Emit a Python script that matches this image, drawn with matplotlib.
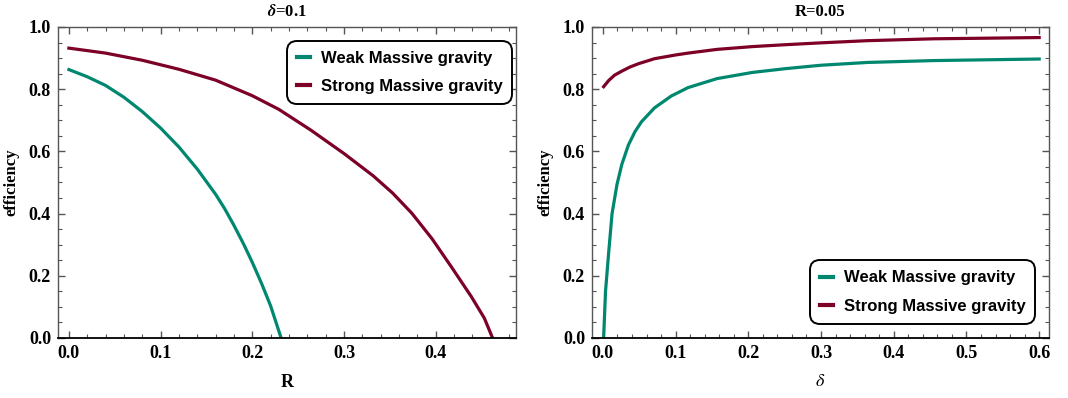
import matplotlib.pyplot as plt
from matplotlib.ticker import MultipleLocator

# left panel: delta = 0.1, efficiency vs R
r_weak = [0.0, 0.02, 0.04, 0.06, 0.08, 0.10, 0.12, 0.14, 0.16, 0.17, 0.18, 0.19,
          0.20, 0.21, 0.22, 0.2314]
eff_r_weak = [0.863, 0.840, 0.812, 0.774, 0.728, 0.675, 0.614, 0.543, 0.462, 0.415,
              0.362, 0.305, 0.243, 0.176, 0.103, 0.0]
r_strong = [0.0, 0.04, 0.08, 0.12, 0.16, 0.20, 0.229, 0.264, 0.30, 0.332, 0.353,
            0.374, 0.396, 0.417, 0.4386, 0.453, 0.462]
eff_r_strong = [0.932, 0.916, 0.893, 0.864, 0.829, 0.779, 0.735, 0.668, 0.593, 0.521,
                0.466, 0.401, 0.319, 0.229, 0.134, 0.064, 0.0]

# right panel: R = 0.05, efficiency vs delta
d_weak = [0.001, 0.0036, 0.0081, 0.0126, 0.0194, 0.026, 0.035, 0.044, 0.053, 0.071,
          0.094, 0.117, 0.157, 0.206, 0.251, 0.30, 0.364, 0.455, 0.60]
eff_d_weak = [0.0, 0.150, 0.279, 0.400, 0.494, 0.558, 0.620, 0.663, 0.695, 0.740,
              0.778, 0.805, 0.834, 0.854, 0.866, 0.877, 0.886, 0.892, 0.897]
d_strong = [0.001, 0.008, 0.016, 0.026, 0.037, 0.049, 0.071, 0.10, 0.117, 0.157,
            0.206, 0.251, 0.30, 0.364, 0.455, 0.60]
eff_d_strong = [0.808, 0.828, 0.845, 0.858, 0.871, 0.882, 0.898, 0.910, 0.916, 0.928,
                0.937, 0.943, 0.949, 0.956, 0.962, 0.966]

teal = '#00876f'
maroon = '#7d0027'
labels = ['Weak Massive gravity', 'Strong Massive gravity']

plt.rcParams['font.family'] = ['Liberation Serif', 'DejaVu Serif']
plt.rcParams['mathtext.fontset'] = 'stix'

fig = plt.figure(figsize=(10.68, 3.98), dpi=100)
ax1 = fig.add_axes([0.0543, 0.1508, 0.4288, 0.7814])
ax2 = fig.add_axes([0.5543, 0.1508, 0.4279, 0.7814])

ax1.plot(r_weak, eff_r_weak, color=teal, lw=2.3, label=labels[0])
ax1.plot(r_strong, eff_r_strong, color=maroon, lw=2.3, label=labels[1])
ax2.plot(d_weak, eff_d_weak, color=teal, lw=2.3, label=labels[0])
ax2.plot(d_strong, eff_d_strong, color=maroon, lw=2.3, label=labels[1])

ax1.set_xlim(-0.0119, 0.4875)
ax2.set_xlim(-0.015, 0.6135)
for ax in (ax1, ax2):
    ax.set_ylim(0, 1.0)
    ax.yaxis.set_major_locator(MultipleLocator(0.2))
    ax.yaxis.set_minor_locator(MultipleLocator(0.05))
    ax.xaxis.set_major_locator(MultipleLocator(0.1))
    ax.xaxis.set_minor_locator(MultipleLocator(0.02))
    ax.tick_params(which='both', direction='in', top=True, right=True,
                   color='#555555', labelsize=13, pad=5)
    ax.tick_params(which='major', length=5, width=1)
    ax.tick_params(which='minor', length=3, width=0.8)
    for sp in ax.spines.values():
        sp.set_color('#555555')
        sp.set_linewidth(1)
    ax.spines['bottom'].set_color('black')
    ax.spines['bottom'].set_linewidth(1.3)
    for lab in ax.get_xticklabels() + ax.get_yticklabels():
        lab.set_fontweight('bold')
    ax.set_ylabel('efficiency', fontsize=12, fontweight='bold', labelpad=7)

ax1.set_xlabel('R', fontsize=13, fontweight='bold', labelpad=9)
ax2.set_xlabel(r'$\delta$', fontsize=13, labelpad=8)
ax1.set_title(r'$\mathbfit{\delta}$=0.1', fontsize=12, fontweight='bold', pad=8)
ax2.set_title('R=0.05', fontsize=12, fontweight='bold', pad=8)

leg_font = {'family': ['Liberation Sans', 'DejaVu Sans'], 'weight': 'bold', 'size': 12}
for ax, loc, anchor in ((ax1, 'upper right', (0.987, 0.948)),
                        (ax2, 'lower right', (0.965, 0.054))):
    leg = ax.legend(loc=loc, bbox_to_anchor=anchor, borderaxespad=0, prop=leg_font,
                    handlelength=0.75, handletextpad=0.65, labelspacing=0.8,
                    borderpad=0.45, fancybox=True, framealpha=1)
    frame = leg.get_frame()
    frame.set_edgecolor('black')
    frame.set_linewidth(1.4)
    frame.set_boxstyle('round', pad=0.15, rounding_size=0.6)
    for line in leg.get_lines():
        line.set_linewidth(3)

fig.savefig('out.png', dpi=100)
